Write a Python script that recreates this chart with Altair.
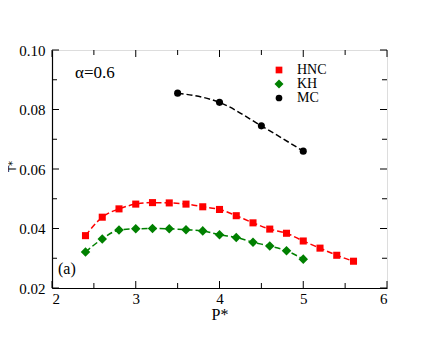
import altair as alt
import pandas as pd

# ---- data ----
hnc_p = [2.4, 2.6, 2.8, 3.0, 3.2, 3.4, 3.6, 3.8, 4.0, 4.2, 4.4, 4.6, 4.8, 5.0, 5.2, 5.4, 5.6]
hnc_t = [0.0376, 0.0438, 0.0466, 0.0482, 0.0487, 0.0486, 0.0482, 0.0473, 0.0464, 0.0443, 0.0419,
         0.0398, 0.0384, 0.0358, 0.0334, 0.0310, 0.0290]
kh_p = [2.4, 2.6, 2.8, 3.0, 3.2, 3.4, 3.6, 3.8, 4.0, 4.2, 4.4, 4.6, 4.8, 5.0]
kh_t = [0.0321, 0.0365, 0.0395, 0.0399, 0.0400, 0.0399, 0.0396, 0.0392, 0.0379, 0.0370,
        0.0354, 0.0341, 0.0325, 0.0297]
mc_p = [3.5, 4.0, 4.5, 5.0]
mc_t = [0.0855, 0.0824, 0.0745, 0.0660]

series = ["HNC", "KH", "MC"]
colors = ["#ff0000", "#008000", "#000000"]
shapes = ["square", "M0,-1.35L1.35,0L0,1.35L-1.35,0Z", "circle"]

x_major = [2, 3, 4, 5, 6]
x_minor = [2.5, 3.5, 4.5, 5.5]
y_major = [0.02, 0.04, 0.06, 0.08, 0.10]
y_minor = [0.03, 0.05, 0.07, 0.09]

W, H = 335, 238
FONT = "Liberation Serif"

rows = []
for name, ps, ts in [("HNC", hnc_p, hnc_t), ("KH", kh_p, kh_t), ("MC", mc_p, mc_t)]:
    for p, t in zip(ps, ts):
        rows.append({"series": name, "P": p, "T": t})
df = pd.DataFrame(rows)

xs = alt.Scale(domain=[2, 6], nice=False, zero=False)
ys = alt.Scale(domain=[0.02, 0.10], nice=False, zero=False)
cs = alt.Scale(domain=series, range=colors)
ss = alt.Scale(domain=series, range=shapes)

xaxis = alt.Axis(values=x_major, format="d", ticks=False, tickSize=0, grid=False,
                 labelFont=FONT, labelFontSize=15, labelColor="black", labelPadding=3,
                 title="P*", titleFont=FONT, titleFontSize=16, titleFontWeight="normal",
                 titleColor="black", titlePadding=0, domainColor="black", domainWidth=1.2)
yaxis = alt.Axis(values=y_major, format=".2f", ticks=False, tickSize=0, grid=False,
                 labelFont=FONT, labelFontSize=15, labelColor="black", labelPadding=7,
                 title="T*", titleFont="DejaVu Sans", titleFontSize=10, titleFontWeight="normal",
                 titleColor="black", titleX=-35, titleY=116, titleAngle=270,
                 titleAlign="center", titleBaseline="bottom",
                 domainColor="black", domainWidth=1.2)

legend = alt.Legend(title=None, orient="none", legendX=220, legendY=13,
                    labelFont=FONT, labelFontSize=14, labelColor="black",
                    symbolSize=45, labelOffset=11, rowPadding=-2,
                    symbolStrokeWidth=0)

base = alt.Chart(df)

lines = base.mark_line(strokeDash=[6, 3], strokeWidth=1.5, interpolate="monotone").encode(
    x=alt.X("P:Q", scale=xs, axis=xaxis),
    y=alt.Y("T:Q", scale=ys, axis=yaxis),
    color=alt.Color("series:N", scale=cs, legend=legend),
    detail="series:N",
)

points = base.mark_point(filled=True, size=50, opacity=1).encode(
    x=alt.X("P:Q", scale=xs, axis=xaxis),
    y=alt.Y("T:Q", scale=ys, axis=yaxis),
    color=alt.Color("series:N", scale=cs, legend=legend),
    shape=alt.Shape("series:N", scale=ss, legend=legend),
)

def xticks(vals, length, top):
    d = pd.DataFrame({"v": vals})
    if top:
        return alt.Chart(d).mark_rule(color="black", strokeWidth=1).encode(
            x=alt.X("v:Q", scale=xs), y=alt.value(0), y2=alt.value(length))
    return alt.Chart(d).mark_rule(color="black", strokeWidth=1).encode(
        x=alt.X("v:Q", scale=xs), y=alt.value(H), y2=alt.value(H - length))

def yticks(vals, length, right):
    d = pd.DataFrame({"v": vals})
    if right:
        return alt.Chart(d).mark_rule(color="black", strokeWidth=1).encode(
            y=alt.Y("v:Q", scale=ys), x=alt.value(W), x2=alt.value(W - length))
    return alt.Chart(d).mark_rule(color="black", strokeWidth=1).encode(
        y=alt.Y("v:Q", scale=ys), x=alt.value(0), x2=alt.value(length))

ticks = [xticks(x_major, 7, False), xticks(x_minor, 5, False),
         xticks(x_major, 7, True), xticks(x_minor, 5, True),
         yticks(y_major, 7, False), yticks(y_minor, 5, False),
         yticks(y_major, 7, True), yticks(y_minor, 5, True)]

alpha_txt = alt.Chart(pd.DataFrame({"t": ["α=0.6"]})).mark_text(
    align="left", baseline="alphabetic", font=FONT, fontSize=17, color="black").encode(
    x=alt.value(23), y=alt.value(28), text="t:N")

panel_txt = alt.Chart(pd.DataFrame({"t": ["(a)"]})).mark_text(
    align="left", baseline="alphabetic", font=FONT, fontSize=16, color="black").encode(
    x=alt.value(6), y=alt.value(224), text="t:N")

chart = alt.layer(lines, points, *ticks, alpha_txt, panel_txt).properties(
    width=W, height=H,
    autosize=alt.AutoSizeParams(type="none"),
    padding={"left": 44, "top": 42, "right": 14, "bottom": 41},
).configure_view(stroke="black", strokeWidth=1.2).configure(
    background="white", font=FONT
).configure_axis(labelFont=FONT, titleFont=FONT).configure_legend(labelFont=FONT)

chart.save("out.html", embed_options={"renderer": "svg", "actions": False})
